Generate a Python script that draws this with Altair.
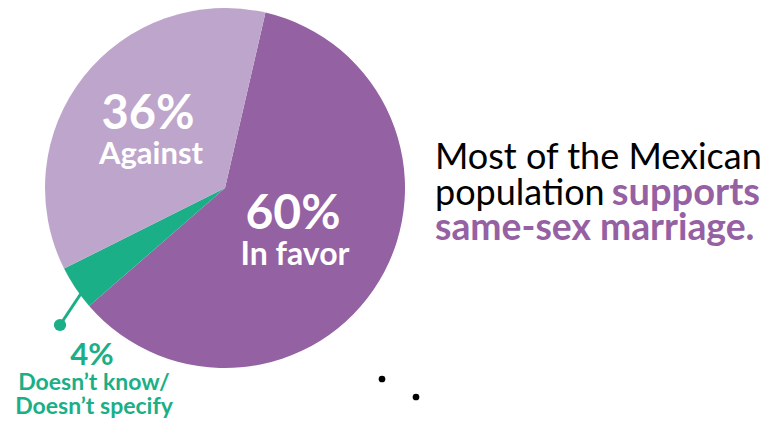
import math
import altair as alt
import pandas as pd

# ---- data ----
categories = ["In favor", "Doesn't know/Doesn't specify", "Against"]
values = [60, 4, 36]
order_idx = [0, 1, 2]
colors = ["#9461A2", "#1BAF87", "#BEA5CB"]

pct_labels = ["60%", "4%", "36%"]
name_labels = [["In favor"], ["Doesn\u2019t know/", "Doesn\u2019t specify"], ["Against"]]

title_lines = ["Most of the Mexican", "population", "supports", "same-sex marriage."]

FONT = "Lato"
W, H = 753, 411
OX, OY = 8, 8  # page margin

def px(x):
    return x - OX

def py(y):
    return y - OY

start = math.radians(13)

df = pd.DataFrame({"cat": categories, "value": values, "idx": order_idx})

pie = alt.Chart(df).mark_arc(outerRadius=180).encode(
    theta=alt.Theta("value:Q", stack=True, scale=alt.Scale(range=[start, start + 2 * math.pi])),
    color=alt.Color("cat:N", scale=alt.Scale(domain=categories, range=colors), legend=None),
    order=alt.Order("idx:Q"),
    x=alt.value(px(225)),
    y=alt.value(py(186)),
)

layers = [pie]

def text_layer(txt, x, y, size, color, weight="bold", align="center", baseline="alphabetic"):
    return alt.Chart(pd.DataFrame({"t": [txt]})).mark_text(
        font=FONT, fontSize=size, fontWeight=weight, color=color, align=align, baseline=baseline
    ).encode(text="t:N", x=alt.value(px(x)), y=alt.value(py(y)))

# slice labels
layers.append(text_layer(pct_labels[2], 148, 127, 47, "white"))
layers.append(text_layer(name_labels[2][0], 151, 162, 31, "white"))
layers.append(text_layer(pct_labels[0], 293, 227, 48, "white"))
layers.append(text_layer(name_labels[0][0], 295, 263, 32, "white"))
layers.append(text_layer(pct_labels[1], 92, 363, 31, "#1BAF87"))
layers.append(text_layer(name_labels[1][0], 94, 388, 23, "#1BAF87"))
layers.append(text_layer(name_labels[1][1], 94, 412, 23, "#1BAF87"))

# leader line and dot
leader = alt.Chart(pd.DataFrame({"a": [0]})).mark_rule(color="#1BAF87", strokeWidth=3).encode(
    x=alt.value(px(60)), y=alt.value(py(323)), x2=alt.value(px(82)), y2=alt.value(py(290))
)
dot = alt.Chart(pd.DataFrame({"a": [0]})).mark_point(filled=True, color="#1BAF87", size=150, opacity=1).encode(
    x=alt.value(px(60)), y=alt.value(py(323))
)
layers += [leader, dot]

# stray dots
for (dx, dy) in [(382, 377), (416, 395)]:
    layers.append(alt.Chart(pd.DataFrame({"a": [0]})).mark_point(filled=True, color="black", size=45, opacity=1).encode(
        x=alt.value(px(dx)), y=alt.value(py(dy))))

# title text
layers.append(text_layer(title_lines[0], 435, 167, 36, "black", weight="normal", align="left"))
layers.append(text_layer(title_lines[1], 435, 203, 36, "black", weight="normal", align="left"))
layers.append(text_layer(title_lines[2], 760, 203, 38, "#9561A3", align="right"))
layers.append(text_layer(title_lines[3], 435, 238, 37.3, "#9561A3", align="left"))

chart = alt.layer(*layers).properties(
    width=W, height=H, autosize=alt.AutoSizeParams(type="fit", contains="padding"), padding=0
).configure(background="white", view=alt.ViewConfig(stroke=None))

chart.save("out.html", embed_options={"renderer": "svg", "actions": False})
